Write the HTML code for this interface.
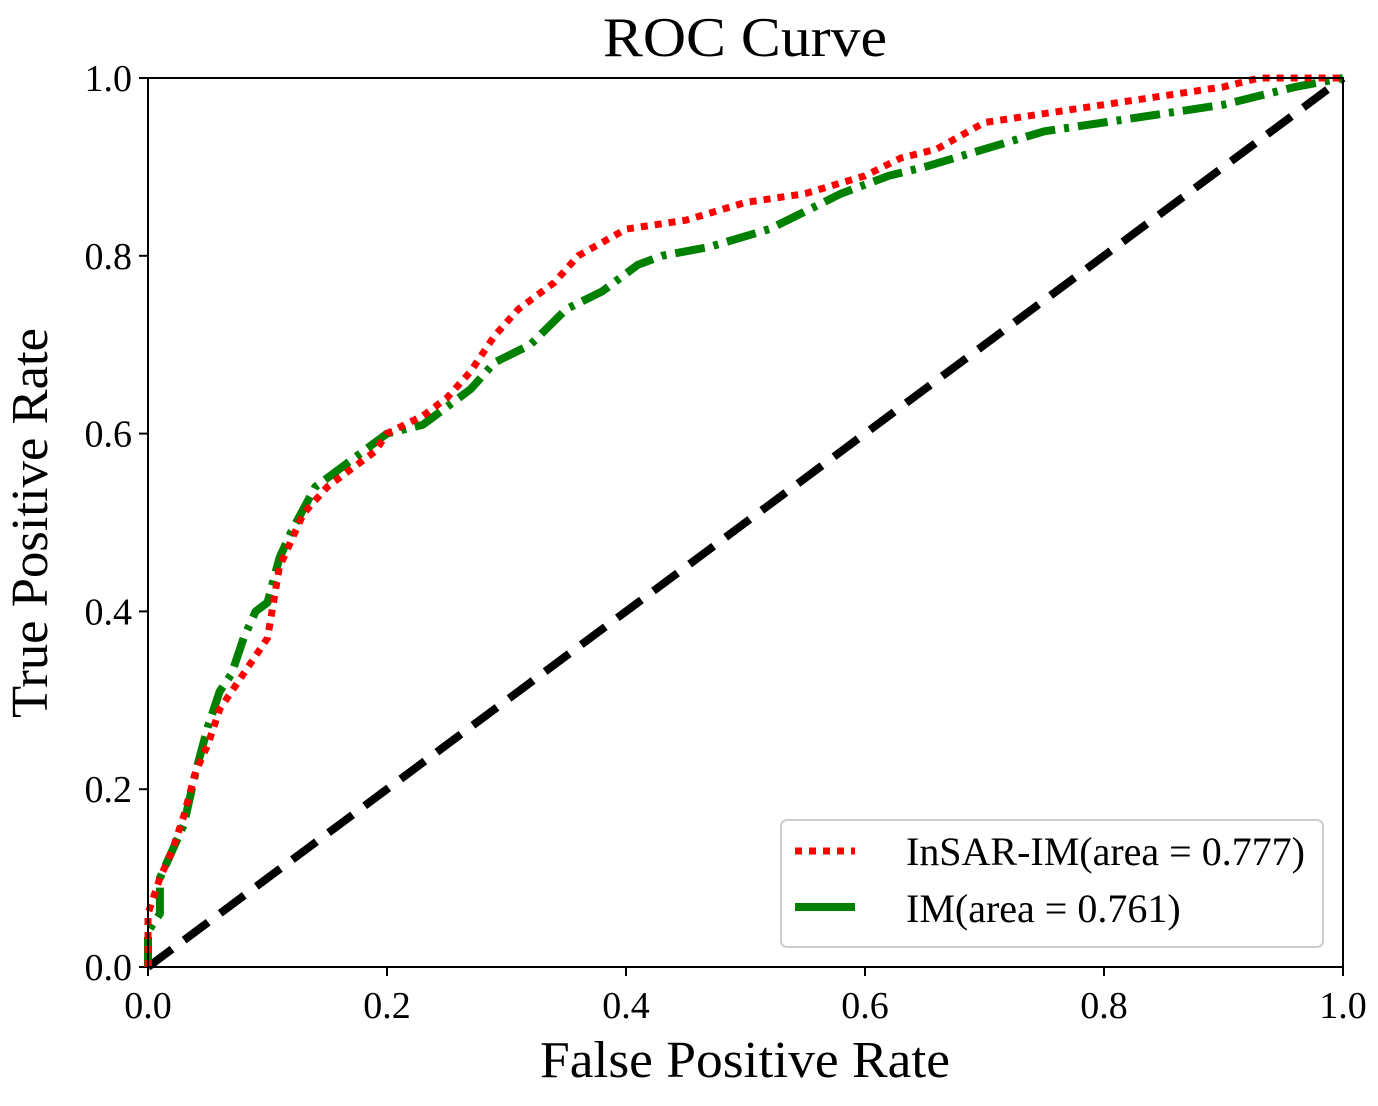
<!DOCTYPE html>
<html><head><meta charset="utf-8"><style>
html,body{margin:0;padding:0;background:#fff}
svg{display:block;font-family:"Liberation Serif","DejaVu Serif",serif}
</style></head><body>
<svg id="chart" width="1378" height="1106" viewBox="0 0 1378 1106" xmlns="http://www.w3.org/2000/svg">
<rect width="1378" height="1106" fill="#fff"/>
<text x="745" y="56" font-size="56" text-anchor="middle" textLength="284" lengthAdjust="spacingAndGlyphs">ROC Curve</text>
<text x="745" y="1077" font-size="52" text-anchor="middle" textLength="410" lengthAdjust="spacingAndGlyphs">False Positive Rate</text>
<text transform="translate(47,523) rotate(-90)" font-size="52" text-anchor="middle" textLength="390" lengthAdjust="spacingAndGlyphs">True Positive Rate</text>
<g id="ticks"></g>
<g id="series"></g>
<rect x="148" y="78" width="1195" height="889" fill="none" stroke="#000" stroke-width="2"/>
<g>
<rect x="781" y="820" width="542" height="127" rx="6" fill="#fff" stroke="#ccc" stroke-width="2"/>
<line x1="795" y1="851" x2="855" y2="851" stroke="#ff0000" stroke-width="7" stroke-dasharray="7,7"/>
<text x="906" y="865" font-size="40" textLength="399" lengthAdjust="spacingAndGlyphs">InSAR-IM(area = 0.777)</text>
<line x1="795" y1="907" x2="855" y2="907" stroke="#008000" stroke-width="8"/>
<text x="906" y="922" font-size="40">IM(area = 0.761)</text>
</g>
</svg>
<script>
const xTicks=[0,0.2,0.4,0.6,0.8,1.0];
const yTicks=[0,0.2,0.4,0.6,0.8,1.0];
const tickLabels=["0.0","0.2","0.4","0.6","0.8","1.0"];
const insarFpr=[0,0,0.01,0.02,0.03,0.04,0.05,0.06,0.08,0.09,0.1,0.11,0.12,0.13,0.15,0.17,0.19,0.2,0.23,0.25,0.27,0.29,0.31,0.34,0.36,0.4,0.45,0.5,0.55,0.6,0.63,0.66,0.7,0.8,0.9,0.93,1];
const insarTpr=[0,0.06,0.1,0.13,0.17,0.22,0.25,0.29,0.33,0.35,0.37,0.45,0.48,0.51,0.54,0.56,0.58,0.6,0.62,0.64,0.67,0.71,0.74,0.77,0.8,0.83,0.84,0.86,0.87,0.89,0.91,0.92,0.95,0.97,0.99,1,1];
const imFpr=[0,0,0.01,0.01,0.02,0.03,0.04,0.05,0.06,0.07,0.08,0.09,0.1,0.11,0.12,0.14,0.16,0.18,0.2,0.23,0.25,0.27,0.29,0.32,0.35,0.38,0.41,0.43,0.47,0.52,0.55,0.58,0.62,0.65,0.7,0.75,0.8,0.85,0.9,0.93,0.96,1];
const imTpr=[0,0.04,0.06,0.1,0.13,0.16,0.22,0.27,0.31,0.33,0.37,0.4,0.41,0.46,0.49,0.54,0.56,0.58,0.6,0.61,0.63,0.65,0.68,0.7,0.74,0.76,0.79,0.8,0.81,0.83,0.85,0.87,0.89,0.9,0.92,0.94,0.95,0.96,0.97,0.98,0.99,1];
const chanceX=[0,1];
const chanceY=[0,1];
const NS="http://www.w3.org/2000/svg";
const X0=148,X1=1343,Y0=967,Y1=78;
function sx(v){return X0+v*(X1-X0);}
function sy(v){return Y0-v*(Y0-Y1);}
const tg=document.getElementById('ticks');
xTicks.forEach((v,i)=>{
 const l=document.createElementNS(NS,'line');
 l.setAttribute('x1',sx(v));l.setAttribute('x2',sx(v));l.setAttribute('y1',Y0);l.setAttribute('y2',Y0+9);
 l.setAttribute('stroke','#000');l.setAttribute('stroke-width','2');
 
 
 tg.appendChild(l);
 const t=document.createElementNS(NS,'text');
 t.setAttribute('x',sx(v));t.setAttribute('y',1018);t.setAttribute('font-size','38');t.setAttribute('text-anchor','middle');
 t.textContent=tickLabels[i];
 
 
 tg.appendChild(t);
});
yTicks.forEach((v,i)=>{
 const l=document.createElementNS(NS,'line');
 l.setAttribute('x1',X0-9);l.setAttribute('x2',X0);l.setAttribute('y1',sy(v));l.setAttribute('y2',sy(v));
 l.setAttribute('stroke','#000');l.setAttribute('stroke-width','2');
 
 
 tg.appendChild(l);
 const t=document.createElementNS(NS,'text');
 t.setAttribute('x',X0-16);t.setAttribute('y',sy(v)+13);t.setAttribute('font-size','38');t.setAttribute('text-anchor','end');
 t.textContent=tickLabels[i];
 
 
 tg.appendChild(t);
});
const sg=document.getElementById('series');
function pathFor(xs,ys){return xs.map((x,i)=>(i?'L':'M')+sx(x).toFixed(1)+','+sy(ys[i]).toFixed(1)).join(' ');}
const pc=document.createElementNS(NS,'path');
pc.setAttribute('d',pathFor(chanceX,chanceY));
pc.setAttribute('fill','none');pc.setAttribute('stroke','#000');pc.setAttribute('stroke-width','8');pc.setAttribute('stroke-dasharray','30,15');


sg.appendChild(pc);
const pg=document.createElementNS(NS,'path');
pg.setAttribute('d',pathFor(imFpr,imTpr));
pg.setAttribute('fill','none');pg.setAttribute('stroke','#008000');pg.setAttribute('stroke-width','8');pg.setAttribute('stroke-dasharray','30,9,5,9');pg.setAttribute('stroke-linejoin','round');


sg.appendChild(pg);
const pr=document.createElementNS(NS,'path');
pr.setAttribute('d',pathFor(insarFpr,insarTpr));
pr.setAttribute('fill','none');pr.setAttribute('stroke','#ff0000');pr.setAttribute('stroke-width','7');pr.setAttribute('stroke-dasharray','7,7');


sg.appendChild(pr);
</script>
</body></html>
